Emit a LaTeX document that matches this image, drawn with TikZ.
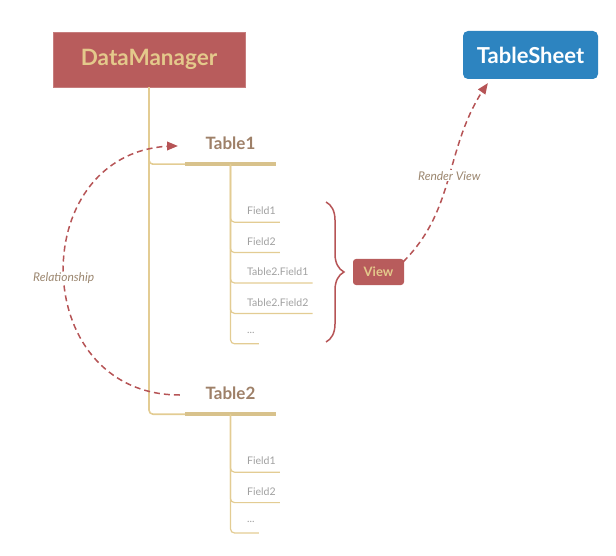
\documentclass[tikz,border=0pt]{standalone}
\usepackage{fontspec}
\setmainfont{Lato}
\usetikzlibrary{arrows, positioning, decorations.pathreplacing}
\definecolor{dmred}{HTML}{B85C5C}
\definecolor{gold}{HTML}{E4C98B}
\definecolor{tsblue}{HTML}{2D84C0}
\definecolor{treeline}{HTML}{E3CC93}
\definecolor{tabletext}{HTML}{9E8068}
\definecolor{fieldtext}{HTML}{A0A0A0}
\definecolor{dashred}{HTML}{B65456}
\definecolor{notetext}{HTML}{9C8770}

\begin{document}
\begin{tikzpicture}[x=1pt, y=-1pt, node distance=8pt, >=triangle 45]
    % Define block styles
    \tikzstyle{root} = [rectangle, draw=dmred!80!white, fill=dmred, text=gold,
        minimum width=192pt, minimum height=55pt, font=\fontsize{22.5}{26}\selectfont\bfseries]
    \tikzstyle{sheet} = [rectangle, fill=tsblue, text=white, rounded corners=5pt,
        minimum width=135pt, minimum height=48pt, font=\fontsize{22}{26}\selectfont\bfseries]
    \tikzstyle{table} = [rectangle, text=tabletext, inner sep=0pt,
        minimum width=91pt, minimum height=42pt, font=\fontsize{17}{20}\selectfont\bfseries]
    \tikzstyle{field} = [rectangle, text=fieldtext, inner xsep=4pt, inner ysep=0pt,
        minimum height=22pt, font=\fontsize{10.5}{12}\selectfont]
    \tikzstyle{view} = [rectangle, fill=dmred, text=gold, rounded corners=3pt,
        minimum width=51pt, minimum height=26pt, font=\fontsize{13}{15}\selectfont\bfseries]
    \tikzstyle{note} = [fill=white, text=notetext, inner sep=1pt, font=\fontsize{12}{14}\selectfont\itshape]
    \tikzstyle{tree} = [draw=treeline, line width=1.6pt, rounded corners=4pt]
    \tikzstyle{under} = [draw=treeline!95!black, line width=4pt]
    \tikzstyle{rel} = [draw=dashred, line width=1.5pt, dash pattern=on 6pt off 4pt, ->]

    \useasboundingbox (0,0) rectangle (616,556);

    % Define nodes
    \node [root] (dm) at (149,59.5) {DataManager};
    \node [sheet] (ts) at (530.5,55) {TableSheet};

    \node [table] (t1) at (230.5,143) {Table1};
    \node [field, anchor=west] (t1f1) at (243,211) {Field1};
    \node [field, below=of t1f1.south west, anchor=north west] (t1f2) {Field2};
    \node [field, below=of t1f2.south west, anchor=north west] (t1f3) {Table2.Field1};
    \node [field, below=of t1f3.south west, anchor=north west] (t1f4) {Table2.Field2};
    \node [field, below=of t1f4.south west, anchor=north west] (t1f5) {...};

    \node [table] (t2) at (230.5,393) {Table2};
    \node [field, anchor=west] (t2f1) at (243,461) {Field1};
    \node [field, below=of t2f1.south west, anchor=north west] (t2f2) {Field2};
    \node [field, below=of t2f2.south west, anchor=north west] (t2f3) {...};

    \node [view] (view) at (378.5,272) {View};

    \coordinate (bracetop) at (326,202);
    \coordinate (bracebot) at (326,342);

    % Draw edges
    \path [tree] (dm.south) |- (t1.south west);
    \path [tree] (dm.south) |- (t2.south west);
    \path [under] (t1.south west) -- (t1.south east);
    \path [under] (t2.south west) -- (t2.south east);
    \foreach \f in {t1f1, t1f2, t1f3, t1f4, t1f5}
        \path [tree, line width=1.2pt] (t1.south) |- (\f.south east);
    \foreach \f in {t2f1, t2f2, t2f3}
        \path [tree, line width=1.2pt] (t2.south) |- (\f.south east);

    \draw [dashred, line width=1.5pt, decorate, decoration={brace, amplitude=18pt}] (bracetop) -- (bracebot);

    \path [rel] ([xshift=-5pt, yshift=-2pt]t2.west) .. controls (25,395) and (25,146) ..
        node [note, pos=0.48] {Relationship} ([xshift=-7pt, yshift=-3pt]t1.west);
    \path [rel] ([xshift=-1pt, yshift=-3pt]view.north east) to [out=45, in=235]
        node [note, pos=0.5] {Render View} ([xshift=25pt, yshift=-4pt]ts.south west);

\end{tikzpicture}
\end{document}
